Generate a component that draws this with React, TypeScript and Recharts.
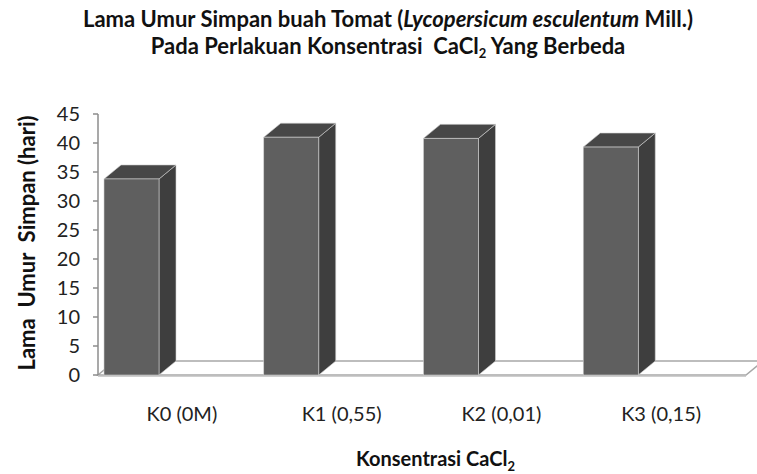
import { Bar, BarChart, XAxis, YAxis, ReferenceArea, Label } from "recharts";

const categories = ["K0 (0M)", "K1 (0,55)", "K2 (0,01)", "K3 (0,15)"];
const umurSimpan = [33.8, 41.0, 40.8, 39.3];
const yTicks = [0, 5, 10, 15, 20, 25, 30, 35, 40, 45];

const data = categories.map((k, i) => ({ k, hari: umurSimpan[i] }));

const FRONT = "#5f5f5f";
const SIDE = "#3e3e3e";
const TOP = "#474747";
const DX = 17;
const DY = 14;
const SHIFT = 46;
const font = "Lato, 'Open Sans', sans-serif";

function Bar3D(props: any) {
  const { x, y, width, height } = props;
  const fx = x - SHIFT;
  const b = y + height;
  const r = fx + width;
  return (
    <g>
      <polygon points={`${r},${y} ${r + DX},${y - DY} ${r + DX},${b - DY} ${r},${b}`} fill={SIDE} stroke="#d0d0d0" strokeWidth={0.6} />
      <polygon points={`${fx},${y} ${fx + DX},${y - DY} ${r + DX},${y - DY} ${r},${y}`} fill={TOP} stroke="#d0d0d0" strokeWidth={0.6} />
      <rect x={fx} y={y} width={width} height={height} fill={FRONT} stroke="#d0d0d0" strokeWidth={0.6} />
    </g>
  );
}

function Floor(props: any) {
  const { x, y, width } = props;
  const r = x + width + 9;
  return (
    <g>
      <polygon
        points={`${x},${y} ${r},${y} ${r + DX},${y - DY} ${x + DX},${y - DY}`}
        fill="#ffffff"
        stroke="#a8a8a8"
        strokeWidth={1.5}
      />
      <line x1={x} y1={y + 1.5} x2={r} y2={y + 1.5} stroke="#cfcfcf" strokeWidth={1} />
    </g>
  );
}

function XTick(props: any) {
  const { x, y, payload } = props;
  return (
    <text x={x + 4} y={y + 33} textAnchor="middle" dominantBaseline="middle" fontFamily={font} fontSize={20} fill="#222">
      {payload.value}
    </text>
  );
}

function XTitle(props: any) {
  const { viewBox } = props;
  const cx = viewBox.x + viewBox.width / 2 + 18;
  return (
    <text x={cx} y={viewBox.y + 91} textAnchor="middle" fontFamily={font} fontSize={20} fontWeight="bold" fill="#111">
      Konsentrasi CaCl<tspan fontSize={13} dy={5}>2</tspan>
    </text>
  );
}

function YTitle() {
  return (
    <text
      x={26}
      y={243}
      transform="rotate(-90 26 243)"
      textAnchor="middle"
      dominantBaseline="central"
      fontFamily={font}
      fontSize={22}
      fontWeight="bold"
      fill="#111"
      style={{ whiteSpace: "pre" }}
    >
      Lama  Umur  Simpan (hari)
    </text>
  );
}

export default function App() {
  return (
    <div style={{ position: "absolute", left: 0, top: 0, width: 757, height: 474, background: "#fff", fontFamily: font }}>
      <div style={{ position: "absolute", left: 0, top: 5, width: 776, textAlign: "center", fontWeight: "bold", fontSize: 22, lineHeight: "27px", color: "#111" }}>
        <div>
          Lama Umur Simpan buah Tomat (<i>Lycopersicum esculentum</i> Mill.)
        </div>
        <div>
          Pada Perlakuan Konsentrasi&nbsp; CaCl<sub style={{ fontSize: 13, verticalAlign: "-4px", lineHeight: 0 }}>2</sub> Yang Berbeda
        </div>
      </div>
      <BarChart width={757} height={474} data={data} margin={{ top: 114, right: 20, bottom: 39, left: 0 }}>
        <ReferenceArea y1={0} y2={0} shape={<Floor />} ifOverflow="visible" />
        <XAxis dataKey="k" axisLine={false} tickLine={false} height={60} tick={<XTick />} interval={0}>
          <Label content={<XTitle />} />
        </XAxis>
        <YAxis
          domain={[0, 45]}
          ticks={yTicks}
          width={98}
          axisLine={{ stroke: "#8c8c8c", strokeWidth: 1.5 }}
          tickLine={{ stroke: "#8c8c8c", strokeWidth: 1.5 }}
          tickSize={5}
          tickMargin={13}
          tick={{ fontFamily: font, fontSize: 20, fill: "#222" }}
          interval={0}
        >
          <Label content={<YTitle />} />
        </YAxis>
        <Bar dataKey="hari" barSize={55} shape={<Bar3D />} isAnimationActive={false} />
      </BarChart>
    </div>
  );
}
